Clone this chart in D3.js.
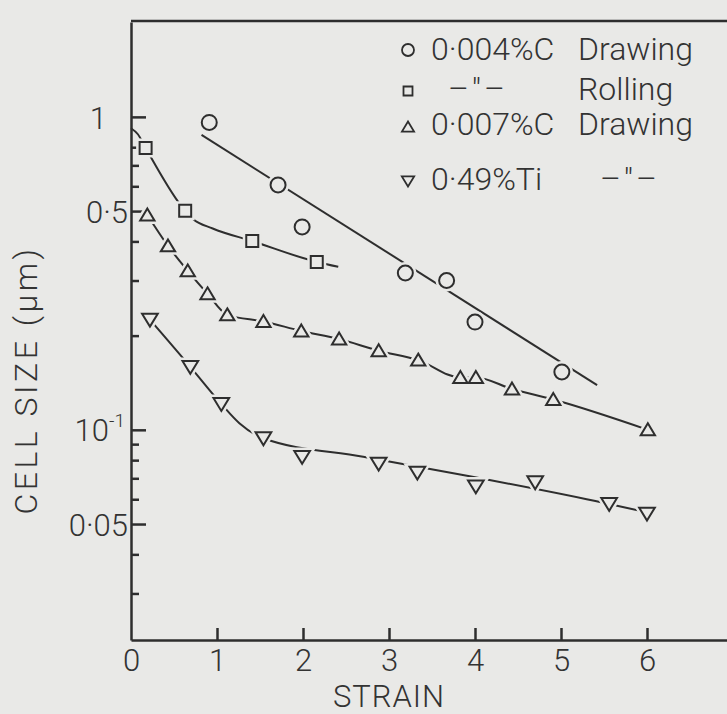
<!DOCTYPE html>
<html>
<head>
<meta charset="utf-8">
<script src="https://cdn.jsdelivr.net/npm/d3@7"></script>
<style>
    body { margin: 0; background: #e9e9e7; }
    svg { display: block; }
    text { font-family: Roboto, "Open Sans", sans-serif; font-weight: 300; fill: #333; }
</style>
</head>
<body>
<svg id="chart" width="727" height="714"></svg>
<script>
// tick values
const strainTicks = [0, 1, 2, 3, 4, 5, 6];
const sizeMajor = [1, 0.5, 0.1, 0.05];
const sizeMajorLabels = ["1", "0·5", "10", "0·05"];
const sizeMinor = [0.8, 0.7, 0.6, 0.4, 0.3, 0.2, 0.09, 0.08, 0.07, 0.06, 0.04, 0.03];

// 0.004%C drawing (circles) + straight fit
const c004Strain = [0.91, 1.71, 1.99, 3.19, 3.67, 4.0, 5.01];
const c004Size = [0.96, 0.606, 0.445, 0.317, 0.30, 0.221, 0.153];
const c004LineStrain = [0.82, 5.42];
const c004LineSize = [0.876, 0.139];

// 0.004%C rolling (squares)
const rollStrain = [0.17, 0.63, 1.41, 2.16];
const rollSize = [0.796, 0.501, 0.401, 0.344];
const rollLineStrain = [0, 0.08, 0.17, 0.63, 0.72, 0.95, 1.41, 2.16, 2.41];
const rollLineSize = [0.92, 0.88, 0.796, 0.501, 0.472, 0.44, 0.401, 0.344, 0.332];

// 0.007%C drawing (up triangles)
const c007Strain = [0.19, 0.43, 0.66, 0.89, 1.12, 1.54, 1.98, 2.42, 2.88, 3.34, 3.83, 4.01, 4.43, 4.91, 6.01];
const c007Size = [0.486, 0.387, 0.322, 0.272, 0.233, 0.222, 0.207, 0.195, 0.179, 0.167, 0.147, 0.147, 0.135, 0.125, 0.100];

// 0.49%Ti drawing (down triangles)
const tiStrain = [0.22, 0.69, 1.05, 1.54, 1.99, 2.88, 3.33, 4.01, 4.70, 5.56, 6.0];
const tiSize = [0.225, 0.159, 0.121, 0.094, 0.082, 0.078, 0.073, 0.066, 0.068, 0.058, 0.054];
const tiLineStrain = [0.22, 0.69, 1.05, 1.26, 1.54, 2.70, 3.97, 5.40, 6.0];
const tiLineSize = [0.225, 0.159, 0.121, 0.105, 0.094, 0.082, 0.0708, 0.0592, 0.0545];

// legend
const legendShapes = ["circle", "square", "up", "down"];
const legendCol1 = ["0·004%C", "–″–", "0·007%C", "0·49%Ti"];
const legendCol2 = ["Drawing", "Rolling", "Drawing", "–″–"];

const ink = "#2e2e2e";
const bg = "#e9e9e7";

const svg = d3.select("#chart");

const x = d3.scaleLinear().domain([0, 7]).range([131, 733]);
const y = d3.scaleLog().domain([0.0213, 2.01]).range([640, 22]);

const zip = (a, b) => a.map((d, i) => [d, b[i]]);

// frame top line
svg.append("line")
    .attr("x1", 131).attr("x2", 727)
    .attr("y1", 21).attr("y2", 21)
    .attr("stroke", ink).attr("stroke-width", 2.5);

// y axis, minor ticks
const yMinor = svg.append("g")
    .attr("transform", "translate(131,0)")
    .call(d3.axisLeft(y).tickValues(sizeMinor).tickSize(-8).tickSizeOuter(0).tickFormat(""));
yMinor.select(".domain").remove();
yMinor.selectAll(".tick line").attr("stroke", ink).attr("stroke-width", 2.5);

// y axis, major ticks
const yAxis = svg.append("g")
    .attr("transform", "translate(131,0)")
    .call(d3.axisLeft(y).tickValues(sizeMajor).tickSize(-15).tickSizeOuter(0).tickPadding(3)
        .tickFormat((d, i) => sizeMajorLabels[i]));
yAxis.select(".domain").attr("stroke", ink).attr("stroke-width", 2.5);
yAxis.selectAll(".tick line").attr("stroke", ink).attr("stroke-width", 2.5);
yAxis.selectAll("text")
    .attr("font-size", 31)
    .attr("font-family", null)
    .attr("dy", "0.36em")
    .attr("x", d => d === 1 ? -24 : d === 0.1 ? -6 : -3)
    .filter(d => d === 0.1)
    .append("tspan")
    .attr("font-size", 19)
    .attr("dy", "-0.75em")
    .text("-1");

// x axis
const xAxis = svg.append("g")
    .attr("transform", "translate(0,640)")
    .call(d3.axisBottom(x).tickValues(strainTicks).tickSize(-12).tickSizeOuter(0).tickPadding(9)
        .tickFormat(d3.format("d")));
xAxis.select(".domain").attr("stroke", ink).attr("stroke-width", 2.5);
xAxis.selectAll(".tick line").attr("stroke", ink).attr("stroke-width", 2.5);
xAxis.selectAll(".tick line").filter(d => d === 0).remove();
xAxis.selectAll("text").attr("font-size", 31).attr("font-family", null);

// axis labels
svg.append("text")
    .attr("x", 389).attr("y", 707)
    .attr("text-anchor", "middle")
    .attr("font-size", 31)
    .attr("letter-spacing", 1)
    .text("STRAIN");

svg.append("text")
    .attr("transform", "translate(37,380) rotate(-90)")
    .attr("text-anchor", "middle")
    .attr("font-size", 32)
    .attr("letter-spacing", 3.5)
    .text("CELL SIZE (μm)");

// lines
const line = d3.line().x(d => x(d[0])).y(d => y(d[1])).curve(d3.curveMonotoneX);

const lineSets = [
    zip(c004LineStrain, c004LineSize),
    zip(rollLineStrain, rollLineSize),
    zip(c007Strain, c007Size),
    zip(tiLineStrain, tiLineSize)
];

svg.append("g").selectAll("path")
    .data(lineSets).enter()
    .append("path")
    .attr("d", line)
    .attr("fill", "none")
    .attr("stroke", ink)
    .attr("stroke-width", 2);

// marker shapes
function circlePath(s) {
    let p = d3.path();
    p.arc(0, 0, s / 2, 0, 2 * Math.PI);
    p.closePath();
    return p.toString();
}

function shapePath(kind, s) {
    if (kind === "circle") return circlePath(s);
    if (kind === "square") return "M" + (-s / 2) + "," + (-s / 2) + "h" + s + "v" + s + "h" + (-s) + "Z";
    if (kind === "up") return "M0," + (-s * 0.5) + "L" + (s * 0.55) + "," + (s * 0.42) + "L" + (-s * 0.55) + "," + (s * 0.42) + "Z";
    if (kind === "down") return "M0," + (s * 0.5) + "L" + (s * 0.56) + "," + (-s * 0.42) + "L" + (-s * 0.56) + "," + (-s * 0.42) + "Z";
}

const markerSets = [
    {kind: "circle", size: 15, pts: zip(c004Strain, c004Size)},
    {kind: "square", size: 12, pts: zip(rollStrain, rollSize)},
    {kind: "up", size: 13, pts: zip(c007Strain, c007Size)},
    {kind: "down", size: 14, pts: zip(tiStrain, tiSize)}
];

markerSets.forEach(function (set) {
    let g = svg.append("g");
    // halo, leaves a gap in the line around each marker
    g.selectAll(".halo")
        .data(set.pts).enter()
        .append("path")
        .attr("class", "halo")
        .attr("transform", d => "translate(" + x(d[0]) + "," + y(d[1]) + ")")
        .attr("d", shapePath(set.kind, set.size))
        .attr("fill", bg)
        .attr("stroke", bg)
        .attr("stroke-width", 7);
    g.selectAll(".mark")
        .data(set.pts).enter()
        .append("path")
        .attr("class", "mark")
        .attr("transform", d => "translate(" + x(d[0]) + "," + y(d[1]) + ")")
        .attr("d", shapePath(set.kind, set.size))
        .attr("fill", bg)
        .attr("stroke", ink)
        .attr("stroke-width", 2);
});

// legend
const legendY = [60, 100, 135, 190];
const legendMarkY = [50, 91, 127, 181];
const legendSize = {circle: 12, square: 9, up: 11, down: 11};
const col1X = [431, 448, 431, 431];
const col2X = [578, 578, 578, 600];

const legend = svg.append("g");

legend.selectAll(".lmark")
    .data(legendShapes).enter()
    .append("path")
    .attr("transform", (d, i) => "translate(408," + legendMarkY[i] + ")")
    .attr("d", d => shapePath(d, legendSize[d]))
    .attr("fill", "none")
    .attr("stroke", ink)
    .attr("stroke-width", 1.8);

legend.selectAll(".lt1")
    .data(legendCol1).enter()
    .append("text")
    .attr("x", (d, i) => col1X[i])
    .attr("y", (d, i) => legendY[i])
    .attr("font-size", 32)
    .attr("letter-spacing", (d, i) => i === 1 ? 3 : 0)
    .text(d => d);

legend.selectAll(".lt2")
    .data(legendCol2).enter()
    .append("text")
    .attr("x", (d, i) => col2X[i])
    .attr("y", (d, i) => legendY[i])
    .attr("font-size", 32)
    .attr("letter-spacing", (d, i) => i === 3 ? 3 : 0)
    .text(d => d);
</script>
</body>
</html>
